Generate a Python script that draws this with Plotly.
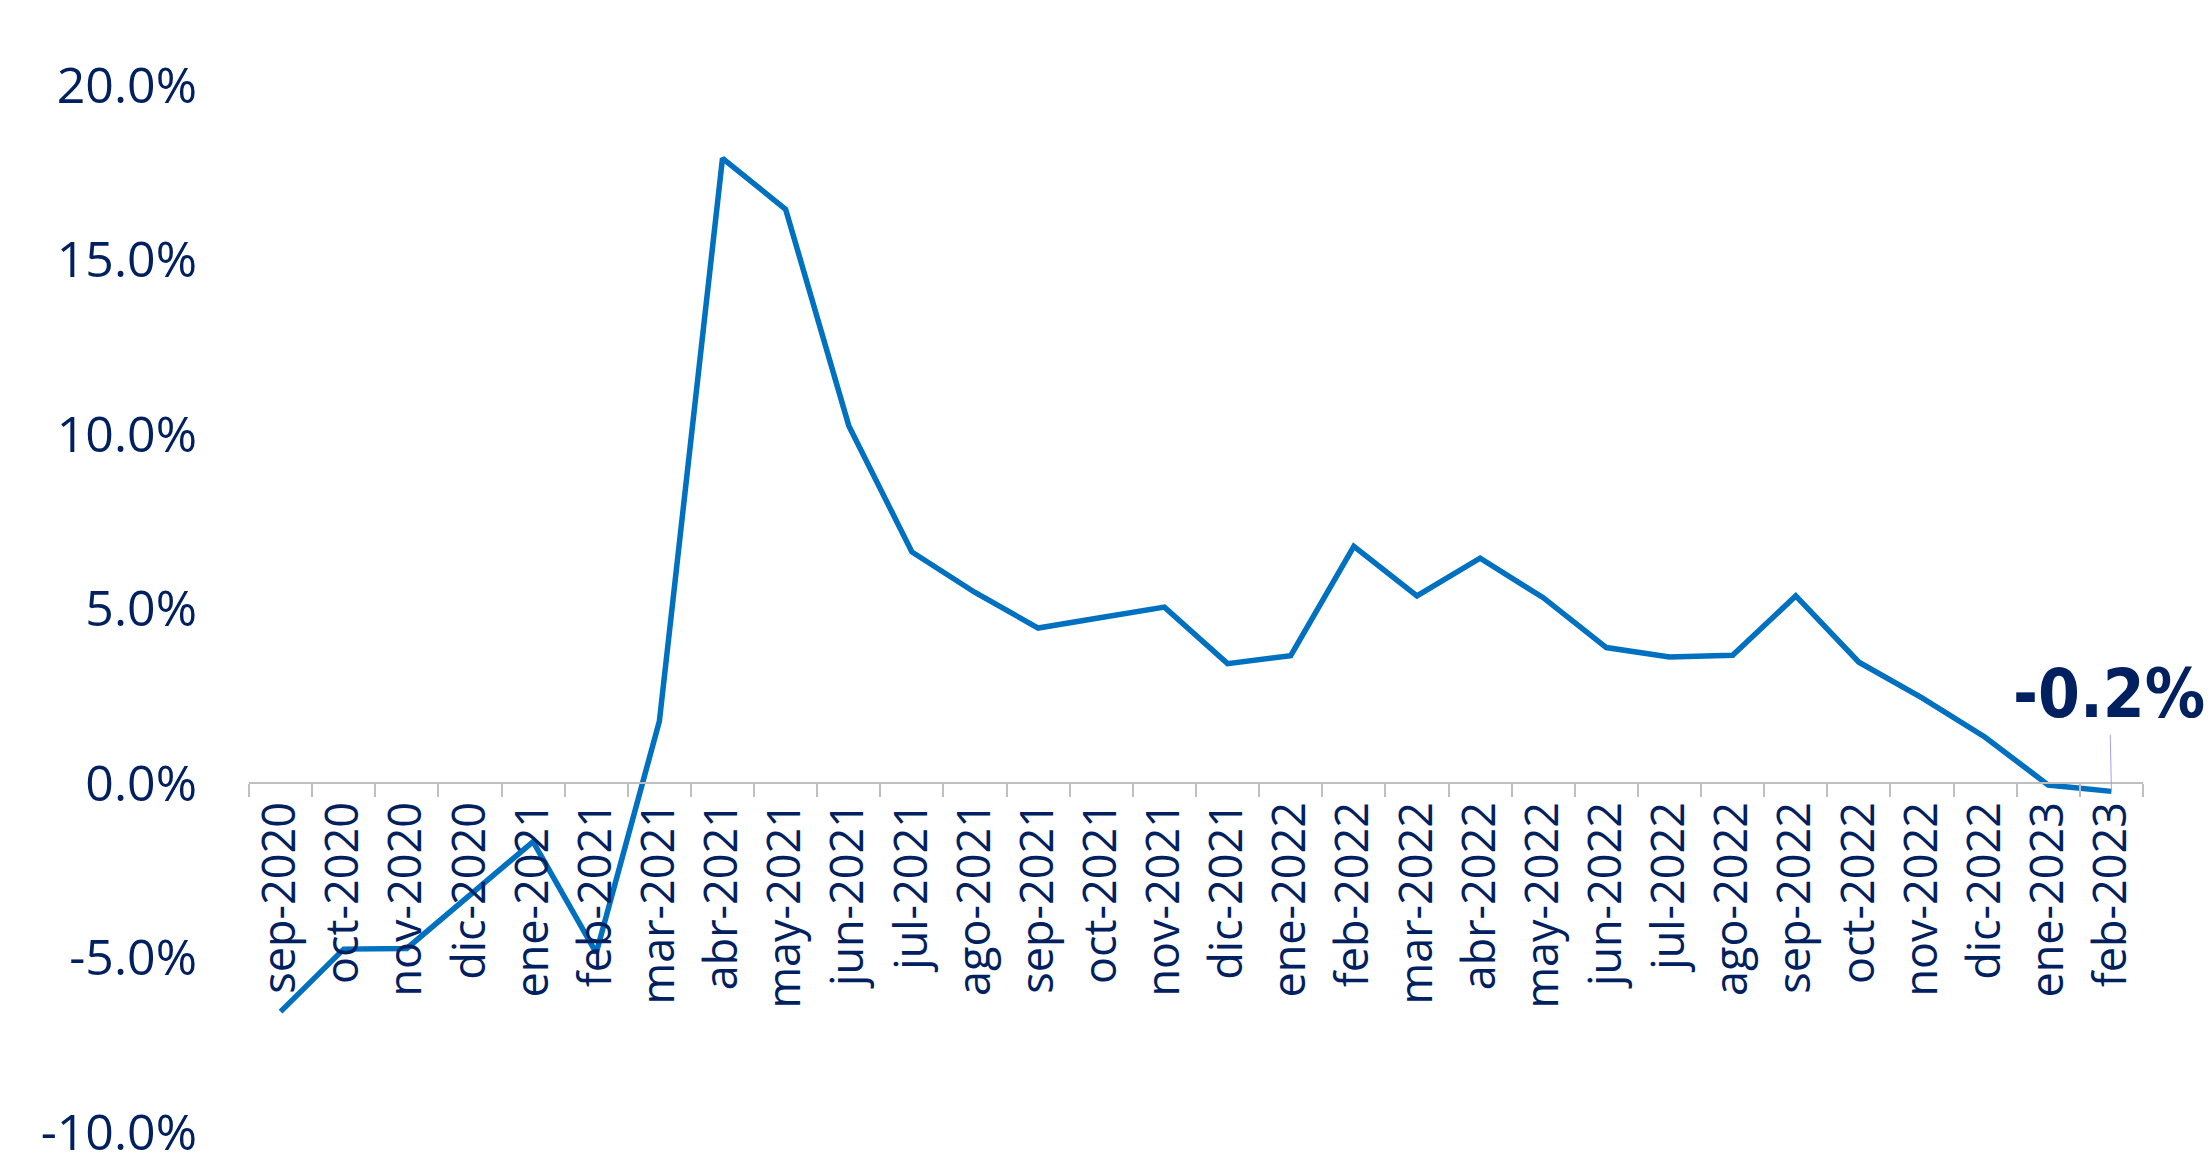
import plotly.graph_objects as go

months = ["sep-2020", "oct-2020", "nov-2020", "dic-2020", "ene-2021", "feb-2021",
          "mar-2021", "abr-2021", "may-2021", "jun-2021", "jul-2021", "ago-2021",
          "sep-2021", "oct-2021", "nov-2021", "dic-2021", "ene-2022", "feb-2022",
          "mar-2022", "abr-2022", "may-2022", "jun-2022", "jul-2022", "ago-2022",
          "sep-2022", "oct-2022", "nov-2022", "dic-2022", "ene-2023", "feb-2023"]

values = [-6.55, -4.76, -4.74, -3.22, -1.68, -4.87,
          1.77, 17.90, 16.44, 10.24, 6.62, 5.46,
          4.44, 4.74, 5.04, 3.42, 3.65, 6.78,
          5.36, 6.44, 5.31, 3.88, 3.61, 3.66,
          5.36, 3.46, 2.44, 1.31, -0.06, -0.24]

y_tickvals = [-10, -5, 0, 5, 10, 15, 20]
y_ticktext = ["-10.0%", "-5.0%", "0.0%", "5.0%", "10.0%", "15.0%", "20.0%"]
last_label = "-0.2%"

navy = "#002060"
line_blue = "#0070C0"
axis_gray = "#BFBFBF"
font_family = "Open Sans"

fig = go.Figure()
fig.add_trace(go.Scatter(
    x=months, y=values, mode="lines",
    line=dict(color=line_blue, width=5.5),
    hoverinfo="skip",
))

fig.add_annotation(
    x=months[-1], y=values[-1], xref="x", yref="y",
    text="<b>" + last_label + "</b>",
    showarrow=True, arrowhead=0, arrowwidth=1, arrowcolor="#A0A0F0",
    ax=-2, ay=-97, standoff=0,
    font=dict(family="DejaVu Sans Condensed", size=67, color=navy),
)

fig.update_layout(
    width=2212, height=1153,
    margin=dict(l=249, r=69, t=85, b=21),
    plot_bgcolor="white", paper_bgcolor="white",
    showlegend=False,
    font=dict(family=font_family, color=navy),
    xaxis=dict(
        type="category",
        range=[-0.5, len(months) - 0.5],
        anchor="free", position=1/3,
        automargin=False,
        showline=True, linecolor=axis_gray, linewidth=2,
        ticks="outside", tickson="boundaries", ticklen=13,
        tickcolor=axis_gray, tickwidth=2,
        tickangle=-90,
        tickfont=dict(family=font_family, size=45, color=navy),
        showgrid=False, zeroline=False,
    ),
    yaxis=dict(
        range=[-10, 20],
        automargin=False,
        tickvals=y_tickvals, ticktext=y_ticktext,
        ticklabeloverflow="allow",
        showgrid=False, zeroline=False, showline=False,
        ticks="", ticklabelstandoff=51,
        tickfont=dict(family=font_family, size=50, color=navy),
    ),
)

fig.write_html(
    "out.html",
    config={"displayModeBar": False},
    post_script="document.body.style.margin='0';document.body.style.overflow='hidden';",
)
